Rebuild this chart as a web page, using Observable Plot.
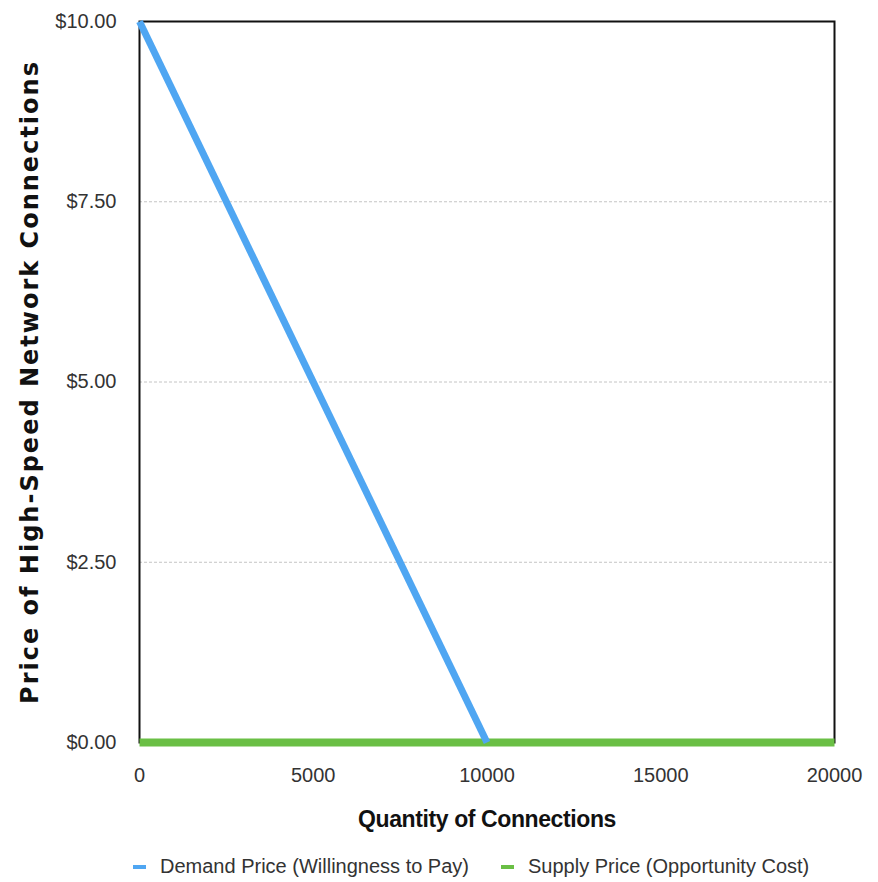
<!DOCTYPE html>
<html>
<head>
<meta charset="utf-8">
<script src="https://cdn.jsdelivr.net/npm/d3@7"></script>
<script src="https://cdn.jsdelivr.net/npm/@observablehq/plot@0.6"></script>
<style>
  html, body { margin: 0; padding: 0; background: #fff; }
  #legend { width: 878px; height: 32px; position: relative; font-family: "Liberation Sans Narrow", "Liberation Sans", sans-serif; font-size: 20px; color: #333; }
  #legend .item { position: absolute; top: 0; line-height: 32px; white-space: nowrap; }
  #legend .sw { display: inline-block; width: 13px; height: 4px; vertical-align: middle; margin-right: 14px; position: relative; top: -1px; }
</style>
</head>
<body>
<div id="chart"></div>
<div id="legend"></div>
<script>
// Data
const demandQuantity = [0, 10000];
const demandPrice = [10, 0];
const supplyQuantity = [0, 20000];
const supplyPrice = [0, 0];
const xTicks = [0, 5000, 10000, 15000, 20000];
const yTicks = [0, 2.5, 5, 7.5, 10];
const seriesNames = ["Demand Price (Willingness to Pay)", "Supply Price (Opportunity Cost)"];
const seriesColors = ["#4fa6f2", "#6abf45"];
const xTitle = "Quantity of Connections";
const yTitle = "Price of High-Speed Network Connections";

const demand = demandQuantity.map((q, i) => ({q, p: demandPrice[i]}));
const supply = supplyQuantity.map((q, i) => ({q, p: supplyPrice[i]}));

const chart = Plot.plot({
  width: 878,
  height: 850,
  marginLeft: 139,
  marginRight: 44,
  marginTop: 21,
  marginBottom: 108,
  style: { fontFamily: "'Liberation Sans Narrow', 'Liberation Sans', sans-serif", fontSize: "20px", color: "#333", background: "#fff" },
  x: { domain: [0, 20000] },
  y: { domain: [0, 10] },
  marks: [
    Plot.gridY([2.5, 5, 7.5], { stroke: "#c4c4c4", strokeOpacity: 1, strokeDasharray: "3,2", strokeWidth: 1 }),
    Plot.axisX(xTicks, { tickSize: 0, tickPadding: 25, tickFormat: d => String(d), label: null, fill: "#333" }),
    Plot.axisY(yTicks, { tickSize: 0, tickPadding: 23, tickFormat: d => "$" + d.toFixed(2), label: null, fill: "#333" }),
    Plot.frame({ stroke: "#111", strokeWidth: 2 }),
    Plot.line(supply, { x: "q", y: "p", stroke: seriesColors[1], strokeWidth: 8, strokeLinecap: "butt" }),
    Plot.line(demand, { x: "q", y: "p", stroke: seriesColors[0], strokeWidth: 7, strokeLinecap: "butt" }),
    Plot.text([xTitle], { text: d => d, frameAnchor: "bottom", dy: 84, fontSize: 23, fontWeight: "bold", fill: "#111", fontFamily: "'Liberation Sans Narrow', 'Liberation Sans', sans-serif" }),
    Plot.text([yTitle], { text: d => d, frameAnchor: "left", textAnchor: "middle", dx: -109, rotate: -90, fontSize: 24, fontWeight: "bold", fill: "#111", fontFamily: "'DejaVu Sans', sans-serif" })
  ]
});
document.getElementById("chart").appendChild(chart);

// Fine-tune title letter spacing to match the reference widths
chart.querySelectorAll("text").forEach(t => {
  if (t.textContent === xTitle) t.setAttribute("letter-spacing", "-0.4");
  if (t.textContent === yTitle) t.setAttribute("letter-spacing", "2");
});

const legend = document.getElementById("legend");
const lefts = [133, 501];
seriesNames.forEach((name, i) => {
  const item = document.createElement("div");
  item.className = "item";
  item.style.left = lefts[i] + "px";
  const sw = document.createElement("span");
  sw.className = "sw";
  sw.style.background = seriesColors[i];
  item.appendChild(sw);
  item.appendChild(document.createTextNode(name));
  legend.appendChild(item);
});
</script>
</body>
</html>
